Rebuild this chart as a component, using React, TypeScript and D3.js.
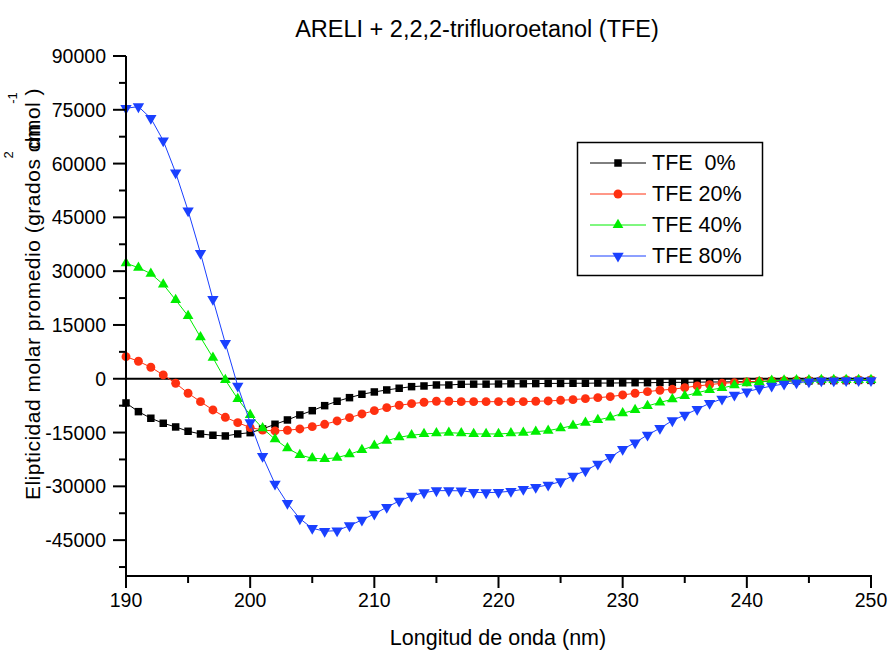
import React from "react";
import * as d3 from "d3";

const wavelengths = [
  190, 191, 192, 193, 194, 195, 196, 197, 198, 199,
  200, 201, 202, 203, 204, 205, 206, 207, 208, 209,
  210, 211, 212, 213, 214, 215, 216, 217, 218, 219,
  220, 221, 222, 223, 224, 225, 226, 227, 228, 229,
  230, 231, 232, 233, 234, 235, 236, 237, 238, 239,
  240, 241, 242, 243, 244, 245, 246, 247, 248, 249, 250,
];

const tfe0 = [
  -6750, -9170, -11010, -12410, -13440, -14640, -15390, -15750, -15950, -15390,
  -15030, -14000, -12690, -11490, -10090, -8900, -7500, -6270, -5270, -4320,
  -3680, -3120, -2650, -2200, -2010, -1730, -1730, -1530, -1500, -1500,
  -1450, -1400, -1400, -1350, -1300, -1300, -1250, -1250, -1200, -1200,
  -1150, -1100, -1100, -1050, -1000, -1000, -950, -900, -900, -850,
  -800, -750, -700, -650, -600, -600, -550, -500, -500, -450, -450,
];

const tfe20 = [
  6160, 4880, 3210, 1060, -1250, -4040, -6390, -8700, -10740, -12240,
  -13600, -14300, -14560, -14360, -14000, -13360, -12690, -11770, -10850, -9820,
  -8900, -8060, -7390, -6940, -6550, -6270, -6270, -6390, -6390, -6390,
  -6390, -6390, -6390, -6270, -6190, -6000, -5820, -5540, -5270, -4990,
  -4520, -4040, -3600, -3200, -2930, -2480, -2010, -1650, -1250, -1090,
  -890, -700, -600, -550, -500, -450, -400, -400, -350, -350, -300,
];

const tfe40 = [
  32210, 30980, 29310, 26300, 21970, 17510, 11570, 5880, -330, -5630,
  -10090, -13800, -16870, -19380, -21250, -22170, -22360, -22000, -21050, -19850,
  -18650, -17260, -16310, -15750, -15390, -15200, -15030, -15200, -15390, -15390,
  -15390, -15200, -15030, -14750, -14470, -13800, -13080, -12240, -11490, -10740,
  -9620, -8700, -7580, -6600, -5720, -4800, -3880, -3120, -2570, -1810,
  -1250, -890, -530, -450, -400, -400, -350, -350, -300, -300, -300,
];

const tfe80 = [
  75430, 75880, 72640, 66390, 57470, 46870, 35000, 22170, 9900, -2010,
  -12240, -21620, -29340, -34720, -39010, -41690, -42520, -42360, -40960, -39370,
  -37700, -35830, -34080, -32680, -31760, -31200, -31200, -31250, -31650, -31760,
  -31650, -31370, -30810, -30250, -29610, -28690, -27100, -25630, -23760, -21890,
  -19660, -17820, -15670, -13800, -11680, -10090, -8500, -6830, -5630, -4520,
  -3600, -2760, -2010, -1450, -1090, -810, -530, -530, -500, -500, -500,
];

const seriesNames = ["TFE  0%", "TFE 20%", "TFE 40%", "TFE 80%"];
const seriesValues = [tfe0, tfe20, tfe40, tfe80];
const seriesColors = ["#000000", "#ff3010", "#00ee00", "#1a40ff"];
const seriesSymbols = ["square", "circle", "triangle", "triangleDown"];

const yMajorTicks = [90000, 75000, 60000, 45000, 30000, 15000, 0, -15000, -30000, -45000];
const yMinorTicks = [82500, 67500, 52500, 37500, 22500, 7500, -7500, -22500, -37500, -52500];
const xMajorTicks = [190, 200, 210, 220, 230, 240, 250];
const xMinorTicks = [195, 205, 215, 225, 235, 245];

const titleText = "ARELI + 2,2,2-trifluoroetanol (TFE)";
const xAxisTitle = "Longitud de onda (nm)";

const W = 893;
const H = 658;
const FONT = "'Liberation Sans', Arial, Helvetica, sans-serif";

function symbolPath(kind: string): { d: string; rot: number } {
  if (kind === "square") return { d: d3.symbol(d3.symbolSquare, 56)() as string, rot: 0 };
  if (kind === "circle") return { d: d3.symbol(d3.symbolCircle, 62)() as string, rot: 0 };
  if (kind === "triangle") return { d: d3.symbol(d3.symbolTriangle, 50)() as string, rot: 0 };
  return { d: d3.symbol(d3.symbolTriangle, 56)() as string, rot: 180 };
}

export default function App() {
  const x = d3.scaleLinear().domain([190, 250]).range([126, 871]);
  const y = d3.scaleLinear().domain([-55000, 90000]).range([576, 56]);

  const line = d3
    .line<number>()
    .x((_, i) => x(wavelengths[i]))
    .y((v) => y(v));

  const legendRowsY = [163, 194, 225, 256];

  return (
    <svg
      width={W}
      height={H}
      style={{ position: "absolute", left: 0, top: 0, background: "#fff" }}
      fontFamily={FONT}
    >
      <rect x={0} y={0} width={W} height={H} fill="#fff" />

      {/* title */}
      <text x={477} y={37} textAnchor="middle" fontSize={23.5}>
        {titleText}
      </text>

      {/* zero line */}
      <line x1={x(190)} x2={x(250)} y1={y(0)} y2={y(0)} stroke="#000" strokeWidth={2} />

      {/* series */}
      {seriesValues.map((vals, si) => {
        const sym = symbolPath(seriesSymbols[si]);
        return (
          <g key={si}>
            <path d={line(vals) as string} fill="none" stroke={seriesColors[si]} strokeWidth={1} />
            {vals.map((v, i) => (
              <path
                key={i}
                d={sym.d}
                transform={`translate(${x(wavelengths[i])},${y(v)}) rotate(${sym.rot})`}
                fill={seriesColors[si]}
              />
            ))}
          </g>
        );
      })}

      {/* axes */}
      <line x1={126} x2={126} y1={y(90000)} y2={y(-55000) + 1} stroke="#000" strokeWidth={2} />
      <line x1={125} x2={x(250) + 1} y1={y(-55000)} y2={y(-55000)} stroke="#000" strokeWidth={2} />

      {yMajorTicks.map((t) => (
        <g key={"ym" + t}>
          <line x1={113} x2={126} y1={y(t)} y2={y(t)} stroke="#000" strokeWidth={2} />
          <text x={106} y={y(t)} textAnchor="end" dominantBaseline="central" fontSize={19.5}>
            {t}
          </text>
        </g>
      ))}
      {yMinorTicks.map((t) => (
        <line key={"yn" + t} x1={119} x2={126} y1={y(t)} y2={y(t)} stroke="#000" strokeWidth={2} />
      ))}
      {xMajorTicks.map((t) => (
        <g key={"xm" + t}>
          <line x1={x(t)} x2={x(t)} y1={576} y2={588} stroke="#000" strokeWidth={2} />
          <text x={x(t)} y={607} textAnchor="middle" fontSize={19.5}>
            {t}
          </text>
        </g>
      ))}
      {xMinorTicks.map((t) => (
        <line key={"xn" + t} x1={x(t)} x2={x(t)} y1={576} y2={583} stroke="#000" strokeWidth={2} />
      ))}

      {/* x axis title */}
      <text x={498} y={645} textAnchor="middle" fontSize={21.5}>
        {xAxisTitle}
      </text>

      {/* y axis title */}
      <text
        transform="translate(40,294) rotate(-90)"
        textAnchor="middle"
        fontSize={21}
        letterSpacing={0.5}
        style={{ whiteSpace: "pre" }}
      >
        <tspan>{"Elipticidad molar promedio (grados "}</tspan>
        <tspan>cm</tspan>
        <tspan dx={-26}>dmol</tspan>
        <tspan>{" )"}</tspan>
      </text>
      <text transform="translate(13,155) rotate(-90)" textAnchor="middle" fontSize={13}>
        2
      </text>
      <text transform="translate(17,98) rotate(-90)" textAnchor="middle" fontSize={13}>
        -1
      </text>

      {/* legend */}
      <rect x={577.5} y={142.5} width={185} height={133} fill="#fff" stroke="#000" strokeWidth={1.5} />
      {seriesNames.map((name, si) => {
        const sym = symbolPath(seriesSymbols[si]);
        const ly = legendRowsY[si];
        return (
          <g key={"lg" + si}>
            <line x1={590} x2={646} y1={ly} y2={ly} stroke={seriesColors[si]} strokeWidth={1} />
            <path d={sym.d} transform={`translate(618,${ly}) rotate(${sym.rot})`} fill={seriesColors[si]} />
            <text x={652} y={ly} dominantBaseline="central" fontSize={21.5} style={{ whiteSpace: "pre" }}>
              {name}
            </text>
          </g>
        );
      })}
    </svg>
  );
}
